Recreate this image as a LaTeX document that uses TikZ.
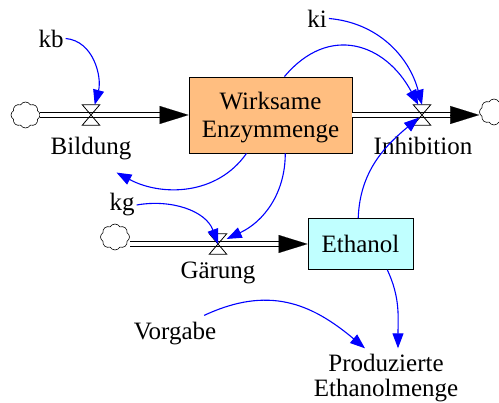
\documentclass[tikz,border=0pt]{standalone}
\usepackage{fontspec}
\setmainfont{Liberation Serif}
\newfontfamily\diagfont{Liberation Serif}
\usetikzlibrary{arrows.meta,shapes.symbols,calc}
\definecolor{stockorange}{RGB}{255,190,128}
\definecolor{stockcyan}{RGB}{192,255,255}
\begin{document}
\begin{tikzpicture}[x=1pt,y=1pt,
  every node/.style={font=\diagfont\fontsize{25}{28}\selectfont},
  lbl/.style={inner sep=2pt},
  stock/.style={draw=black, line width=0.9pt, inner sep=0pt, align=center},
  cloudn/.style={cloud, draw=black, line width=0.6pt, cloud puffs=8, cloud puff arc=120, cloud ignores aspect, inner sep=0pt, minimum width=29pt, minimum height=26pt},
  valvebox/.style={inner sep=0pt, minimum width=17pt, minimum height=20pt},
  pipe/.style={draw=black, line width=1pt, double=white, double distance=3.6pt, shorten >=27pt},
  pipehead/.style={-{Triangle[length=29pt,width=18pt]}, line width=0.1pt, draw=black},
  valveline/.style={draw=black, line width=0.8pt},
  info/.style={draw=blue, line width=1.1pt, -{Triangle[length=15pt,width=11pt]}}
]
\useasboundingbox (0,0) rectangle (499,403);

% stocks
\node[stock, fill=stockorange, minimum width=163pt, minimum height=76pt] (wirk) at (270.5,288)
      {\rule{0pt}{22.4pt}Wirksame\\Enzymmenge};
\node[stock, fill=stockcyan, minimum width=105pt, minimum height=51pt] (eth) at (360.5,159) {Ethanol};

% clouds
\node[cloudn] (cL) at (25.5,288) {};
\node[cloudn] (cR) at (494,291) {};
\node[cloudn] (cG) at (115,166) {};

% valves
\node[valvebox] (vB) at (91,288) {};
\node[valvebox] (vI) at (422,288) {};
\node[valvebox] (vG) at (218,159) {};

% labels
\node[lbl] (kb) at (51,364.5) {kb};
\node[lbl] (bild) at (91,254) {Bildung};
\node[lbl] (ki) at (317,384.5) {ki};
\node[lbl] (inhib) at (423,257) {Inhibition};
\node[lbl] (kg) at (122,198) {kg};
\node[lbl] (gaer) at (218,130.5) {Gärung};
\node[lbl] (vorg) at (175,69) {Vorgabe};
\node[lbl, align=center, font=\diagfont\fontsize{25}{25}\selectfont] (prod) at (386,24.6) {Produzierte\\Ethanolmenge};

% pipes
\draw[pipe] (cL.east |- wirk.west) -- (wirk.west);
\draw[pipehead] ([xshift=-29pt]wirk.west) -- (wirk.west);
\draw[pipe] (wirk.east) -- (cR.west |- wirk.east);
\draw[pipehead] ([xshift=-29pt]cR.west |- wirk.east) -- (cR.west |- wirk.east);
\draw[pipe] (cG.east |- eth.west) -- (eth.west);
\draw[pipehead] ([xshift=-29pt]eth.west) -- (eth.west);

% valve symbols
\foreach \v in {vB,vI,vG}
  \draw[valveline] (\v.north west) -- (\v.north east) -- (\v.south west) -- (\v.south east) -- cycle;

% information links
\draw[info] (kb.east) to[out=-5,in=75] (vB.70);
\draw[info] (ki.east) to[out=-5,in=105] (vI.north);
\draw[info] (wirk.70) to[out=50,in=118,looseness=1.3] (vI.110);
\draw[info, shorten >=4pt] (eth.95) to[out=88,in=-140] (vI.center);
\draw[info] (wirk.-122) to[out=-125,in=-28] ([shift={(-17,-10)}]bild.south east);
\draw[info] (wirk.-69) to[out=-90,in=25] (vG.30);
\draw[info] (kg.east) to[out=10,in=110] (vG.center);
\draw[info] (eth.-44) to[out=-65,in=90] ([xshift=12pt,yshift=4pt]prod.north);
\draw[info] ([yshift=5pt]vorg.25) to[out=25,in=140,looseness=1.1] ([xshift=-21pt,yshift=4pt]prod.north);
\end{tikzpicture}
\end{document}
